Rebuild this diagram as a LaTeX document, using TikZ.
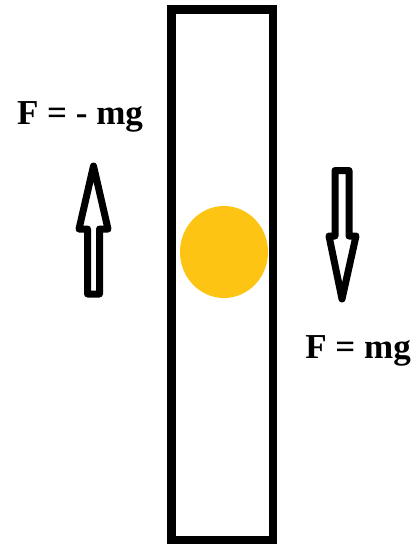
\documentclass[tikz,border=0pt]{standalone}
\usepackage{fontspec}
\setmainfont{Liberation Serif}
\usetikzlibrary{positioning}
\definecolor{ballyellow}{RGB}{253,196,20}
\tikzset{
  forcelabel/.style={font=\fontsize{35}{38}\selectfont\bfseries, inner sep=0pt},
  blockarrow/.style={line width=7pt, line join=round, fill=white},
}
\begin{document}
\begin{tikzpicture}[x=1pt,y=-1pt]
\useasboundingbox (0,0) rectangle (417,546);
% Tube
\draw[line width=8.5pt] (171.5,9.5) rectangle (273,540);
% Ball
\fill[ballyellow] (224,252) ellipse (44 and 46);
% Upward force
\draw[blockarrow] (87.5,294) -- (87.5,229) -- (79,229) -- (93.5,166) -- (108,229) -- (99.5,229) -- (99.5,294) -- cycle;
\node[forcelabel] (up) at (80,117) {F = - mg};
% Downward force
\draw[blockarrow] (335,170.5) -- (335,236) -- (329,236) -- (342,299) -- (356,236) -- (349,236) -- (349,170.5) -- cycle;
\node[forcelabel] (down) at (358,351) {F = mg};
\end{tikzpicture}
\end{document}
